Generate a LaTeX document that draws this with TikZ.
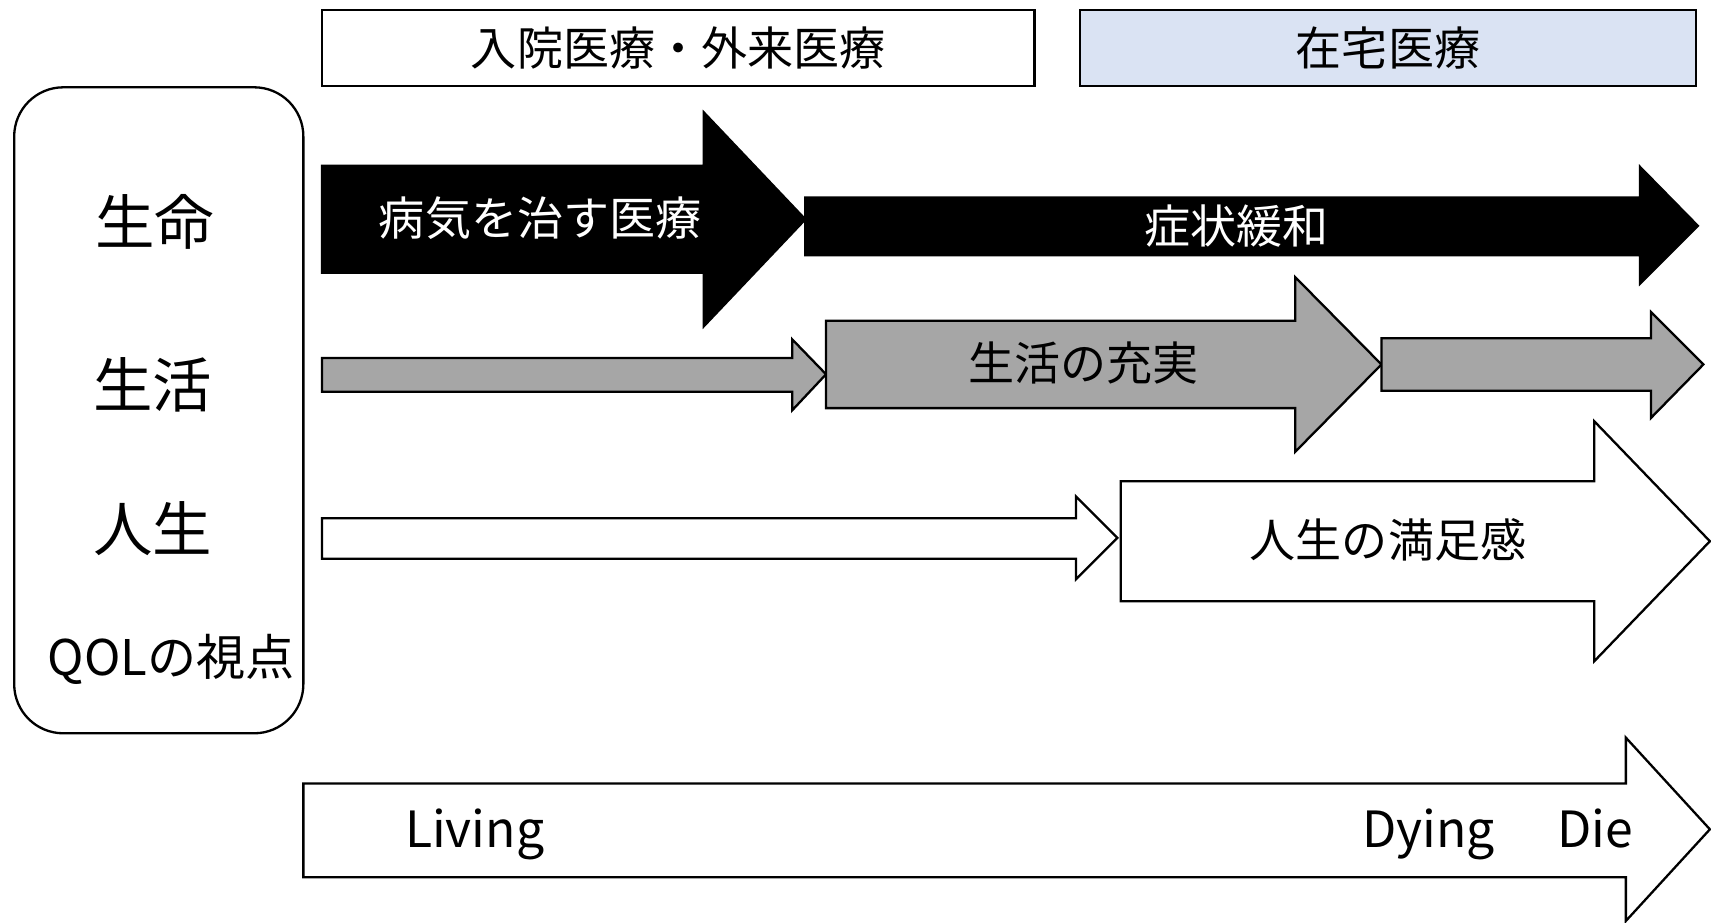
\documentclass[tikz,border=0pt]{standalone}
\usepackage{fontspec}
\setmainfont{Noto Sans CJK JP}
\definecolor{homeblue}{HTML}{DAE3F3}
\definecolor{lifegray}{HTML}{A6A6A6}

\begin{document}
\begin{tikzpicture}[x=0.01cm,y=-0.01cm,line width=0.6pt,
    lbl/.style={font=\fontsize{12}{14}\selectfont},
    side/.style={font=\fontsize{15.5}{18}\selectfont},
    era/.style={font=\fontsize{13}{15}\selectfont,anchor=base}]
        \useasboundingbox (0,0) rectangle (1568,845);

        % header
        \draw[fill=white] (295,9) rectangle (948,79);
        \draw (621.5,44) node[lbl] (hosp) {入院医療・外来医療};
        \draw[fill=homeblue] (990,9) rectangle (1554,79);
        \draw (1272,44) node[lbl] (home) {在宅医療};

        % QOL
        \draw[rounded corners=0.45cm] (13,80) rectangle (278,672);
        \draw (142,203) node[side] (life) {生命};
        \draw (140,353) node[side] (living) {生活};
        \draw (140,484) node[side] (whole) {人生};
        \draw (157,604) node[font=\fontsize{12.8}{15}\selectfont] (qol) {QOLの視点};

        % black
        \draw[fill=black] (295,152) -- (645,152) -- (645,103) -- (738,201) -- (645,299) -- (645,250) -- (295,250) -- cycle;
        \draw (495,200) node[lbl,text=white] (cure) {病気を治す医療};
        \draw[fill=black] (738,181) -- (1503,181) -- (1503,153) -- (1556,207) -- (1503,260) -- (1503,234) -- (738,234) -- cycle;
        \draw (1133,207) node[lbl,text=white] (relief) {症状緩和};

        % gray
        \draw[fill=lifegray] (295,328) -- (726,328) -- (726,311) -- (757,343) -- (726,376) -- (726,359) -- (295,359) -- cycle;
        \draw[fill=lifegray] (757,294) -- (1187,294) -- (1187,254) -- (1266,334) -- (1187,414) -- (1187,374) -- (757,374) -- cycle;
        \draw (993,333) node[lbl] (full) {生活の充実};
        \draw[fill=lifegray] (1266,310) -- (1513,310) -- (1513,286) -- (1561,334) -- (1513,383) -- (1513,358) -- (1266,358) -- cycle;

        % white
        \draw[fill=white] (295,475) -- (986,475) -- (986,455) -- (1024,493) -- (986,531) -- (986,512) -- (295,512) -- cycle;
        \draw[fill=white] (1027,441) -- (1461,441) -- (1461,386) -- (1567,496) -- (1461,606) -- (1461,551) -- (1027,551) -- cycle;
        \draw (1272,495) node[lbl] (satis) {人生の満足感};

        % time line
        \draw[fill=white] (278,718) -- (1490,718) -- (1490,676) -- (1567,760) -- (1490,844) -- (1490,804) -- (278,804) -- cycle;
        \draw (435,777) node[era] (alive) {Living};
        \draw (1309,777) node[era] (dying) {Dying};
        \draw (1462,777) node[era] (die) {Die};

      \end{tikzpicture}
\end{document}
